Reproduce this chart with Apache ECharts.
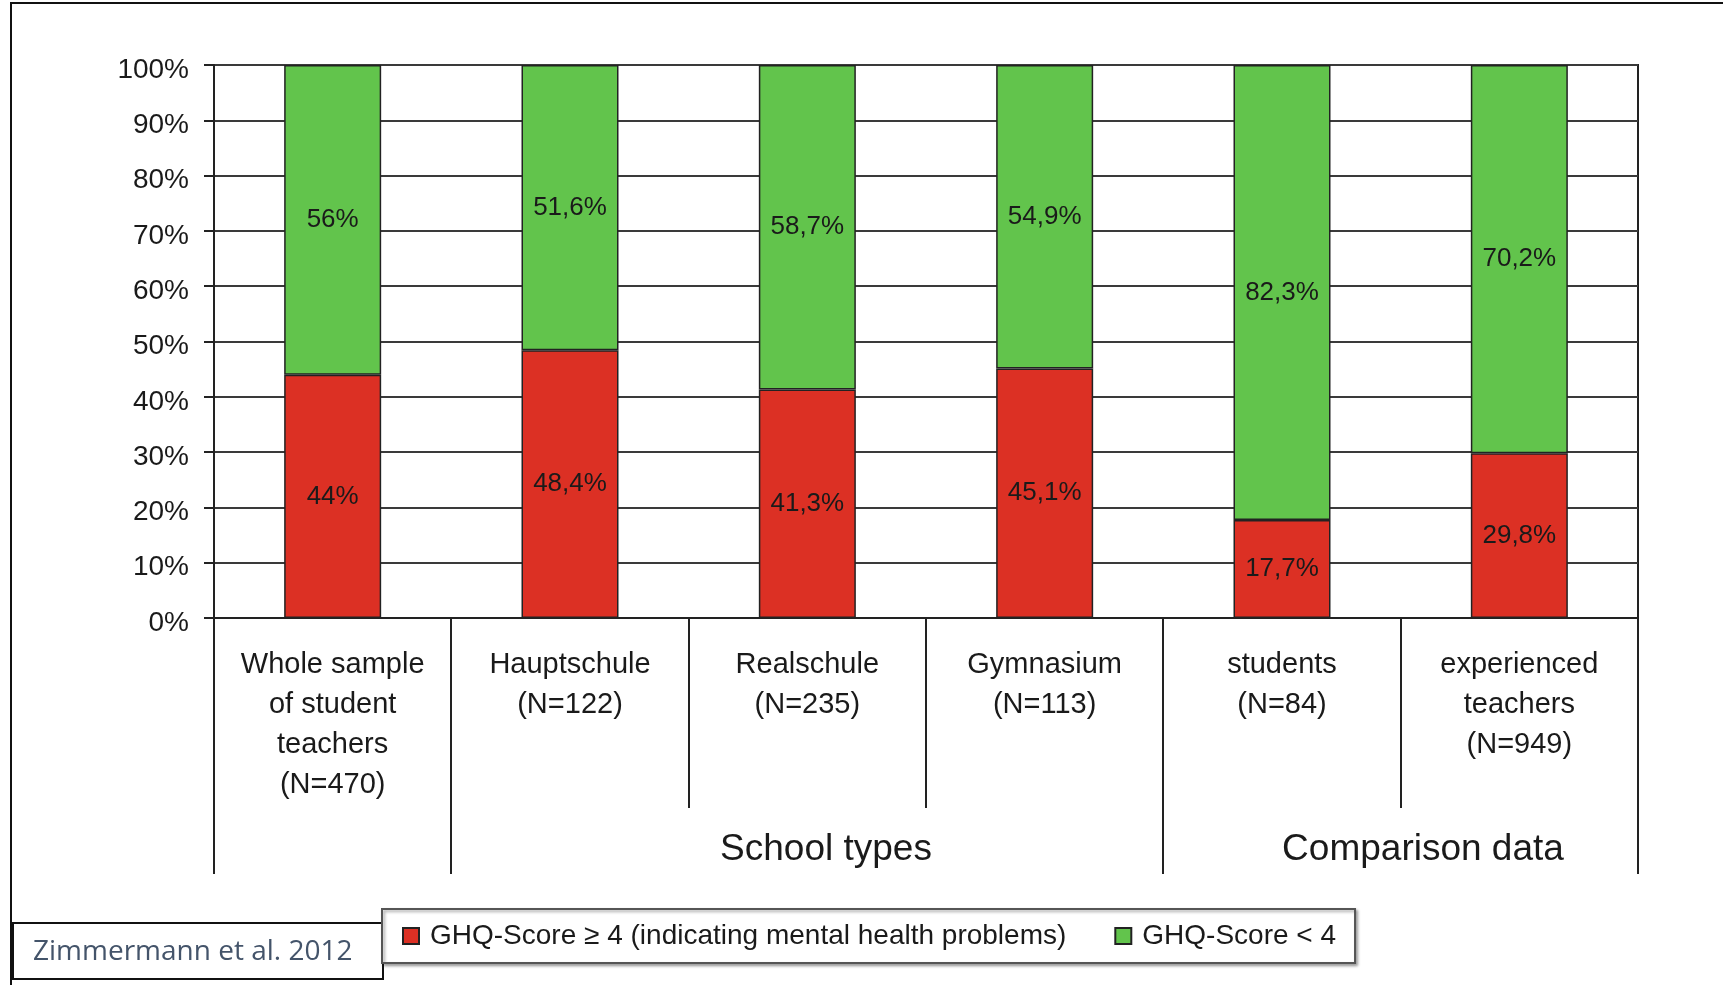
<!DOCTYPE html>
<html>
<head>
<meta charset="utf-8">
<title>GHQ-Score distribution</title>
<script src="https://cdn.jsdelivr.net/npm/echarts@6/dist/echarts.min.js"></script>
<style>
  html, body { margin: 0; padding: 0; background: #fff; }
  #chart { width: 1723px; height: 985px; }
</style>
</head>
<body>
<div id="chart"></div>
<script>
// Groups shown on the x axis
const categories = [
  'Whole sample\nof student\nteachers\n(N=470)',
  'Hauptschule\n(N=122)',
  'Realschule\n(N=235)',
  'Gymnasium\n(N=113)',
  'students\n(N=84)',
  'experienced\nteachers\n(N=949)'
];

// Share of respondents (%) per group
const ghqHigh = [44, 48.4, 41.3, 45.1, 17.7, 29.8];   // GHQ-Score >= 4
const ghqLow  = [56, 51.6, 58.7, 54.9, 82.3, 70.2];   // GHQ-Score < 4

const seriesNames = ['GHQ-Score ≥ 4 (indicating mental health problems)', 'GHQ-Score < 4'];
const groupTitles = ['School types', 'Comparison data'];
const sourceNote = 'Zimmermann et al. 2012';

// Which category boundaries get the long separator below the axis
const longBoundaries = [0, 1, 4, 6];

const FONT = '"Liberation Sans", Arial, Helvetica, sans-serif';
const TEXT = '#1a1a1a';

const chart = echarts.init(document.getElementById('chart'));

const fmtPct = p => String(p.value).replace('.', ',') + '%';

const barLabel = {
  show: true,
  position: 'inside',
  formatter: fmtPct,
  fontFamily: FONT,
  fontSize: 26,
  color: TEXT
};

chart.setOption({
  animation: false,
  backgroundColor: '#fff',
  grid: {
    left: 214, right: 85, top: 65, bottom: 367,
    show: true, borderColor: '#222', borderWidth: 2
  },
  legend: {
    left: 382, top: 909,
    padding: [13, 19, 13, 20],
    itemWidth: 16, itemHeight: 16, itemGap: 48,
    icon: 'rect',
    backgroundColor: '#fff',
    borderColor: '#555', borderWidth: 2,
    shadowColor: 'rgba(0,0,0,0.35)', shadowBlur: 3, shadowOffsetX: 2, shadowOffsetY: 2,
    textStyle: { fontFamily: FONT, fontSize: 28, color: TEXT, padding: [0, 0, 0, 6] },
    data: seriesNames
  },
  xAxis: {
    type: 'category',
    data: categories,
    axisLine: { lineStyle: { color: '#222', width: 2 } },
    axisTick: { show: false },
    axisLabel: {
      interval: 0, margin: 27,
      fontFamily: FONT, fontSize: 29, lineHeight: 40, color: TEXT
    }
  },
  yAxis: {
    type: 'value',
    min: 0, max: 100, interval: 10,
    axisLine: { show: true, lineStyle: { color: '#222', width: 2 } },
    axisTick: { show: true, length: 10, lineStyle: { color: '#222', width: 2 } },
    axisLabel: {
      formatter: '{value}%', margin: 25,
      fontFamily: FONT, fontSize: 28, color: TEXT,
      verticalAlign: 'top', lineHeight: 10
    },
    splitLine: { lineStyle: { color: '#3a3a3a', width: 2 } }
  },
  series: [
    {
      name: seriesNames[0], type: 'bar', stack: 'ghq', barWidth: 97,
      data: ghqHigh,
      itemStyle: { color: '#DC3024', borderColor: '#222', borderWidth: 1.5 },
      label: barLabel
    },
    {
      name: seriesNames[1], type: 'bar', stack: 'ghq', barWidth: 97,
      data: ghqLow,
      itemStyle: { color: '#62C44C', borderColor: '#222', borderWidth: 1.5 },
      label: barLabel
    }
  ]
});

// Separators between the categories below the axis, plus group titles and frame
function drawDecorations() {
  const c0 = chart.convertToPixel({ xAxisIndex: 0 }, 0);
  const c1 = chart.convertToPixel({ xAxisIndex: 0 }, 1);
  const step = c1 - c0;
  const y0 = chart.convertToPixel({ yAxisIndex: 0 }, 0);
  const boundary = i => c0 - step / 2 + i * step;

  const elements = [];
  for (let i = 0; i <= categories.length; i++) {
    const len = longBoundaries.includes(i) ? 256 : 190;
    const x = Math.round(boundary(i));
    elements.push({
      type: 'line',
      shape: { x1: x, y1: y0, x2: x, y2: y0 + len },
      style: { stroke: '#222', lineWidth: 2 }
    });
  }

  elements.push({
    type: 'text', x: 826, y: 850,
    style: { text: groupTitles[0], font: '37px ' + FONT, fill: TEXT, align: 'center', verticalAlign: 'middle' }
  });
  elements.push({
    type: 'text', x: 1423, y: 850,
    style: { text: groupTitles[1], font: '37px ' + FONT, fill: TEXT, align: 'center', verticalAlign: 'middle' }
  });

  // Outer frame (left and top edges)
  elements.push({
    type: 'polyline',
    shape: { points: [[11, 985], [11, 3], [1723, 3]] },
    style: { stroke: '#111', lineWidth: 2, fill: null }
  });

  // Source note box
  elements.push({
    type: 'group', z: 100,
    children: [
      {
        type: 'rect',
        shape: { x: 13, y: 923, width: 370, height: 56 },
        style: { fill: '#fff', stroke: '#111', lineWidth: 2 }
      },
      {
        type: 'text', x: 33, y: 952,
        style: { text: sourceNote, font: '28px "Open Sans", "Noto Sans", sans-serif', fill: '#44546A', verticalAlign: 'middle' }
      }
    ]
  });

  chart.setOption({ graphic: { elements } });
}

drawDecorations();
</script>
</body>
</html>
